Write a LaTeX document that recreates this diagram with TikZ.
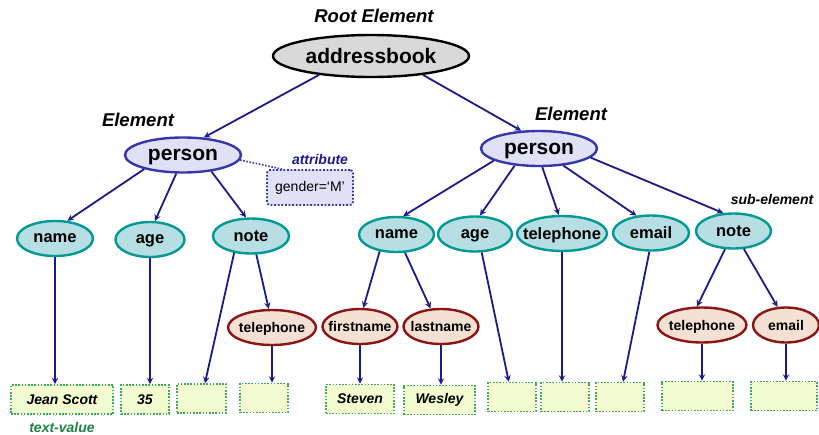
\documentclass[tikz,border=0pt]{standalone}
\usepackage{fontspec}
\setmainfont{Liberation Sans}
\usetikzlibrary{arrows,shapes.geometric}
\definecolor{navyline}{RGB}{26, 26, 140}
\definecolor{cloud}{RGB}{217, 217, 217}
\definecolor{indigo}{RGB}{55, 55, 170}
\definecolor{lavender}{RGB}{224, 224, 247}
\definecolor{aqua}{RGB}{183, 222, 226}
\definecolor{aquadark}{RGB}{0, 153, 148}
\definecolor{blush}{RGB}{245, 224, 212}
\definecolor{maroon}{RGB}{140, 20, 20}
\definecolor{lemon}{RGB}{242, 252, 208}
\definecolor{fern}{RGB}{60, 170, 90}
\definecolor{forest}{RGB}{30, 130, 70}

\begin{document}
\begin{tikzpicture}[x=1pt, y=-1pt,
    rootnode/.style={ellipse, draw=black, fill=cloud, line width=2.4pt, minimum width=196pt, minimum height=42pt,
                     inner xsep=-20pt, inner ysep=-4pt, text depth=0pt, font=\fontsize{21}{21}\selectfont\bfseries},
    personnode/.style={ellipse, draw=indigo, fill=lavender, line width=2.4pt, minimum width=116pt, minimum height=35pt,
                     inner xsep=-20pt, inner ysep=-4pt, text depth=0pt, font=\fontsize{21}{21}\selectfont\bfseries},
    leafnode/.style={ellipse, draw=aquadark, fill=aqua, line width=2.4pt, minimum height=35pt,
                     inner xsep=-20pt, inner ysep=-4pt, text depth=0pt, font=\fontsize{16.5}{16.5}\selectfont\bfseries},
    subnode/.style={ellipse, draw=maroon, fill=blush, line width=2.4pt, minimum height=35pt,
                     inner xsep=-20pt, inner ysep=-4pt, text depth=0pt, font=\fontsize{14}{14}\selectfont\bfseries},
    valuebox/.style={rectangle, draw=fern, fill=lemon, line width=1.6pt, dash pattern=on 1.6pt off 1.6pt,
                     minimum height=29pt, inner sep=0pt, font=\fontsize{14}{14}\selectfont\bfseries\itshape},
    attrbox/.style={rectangle, rounded corners=3pt, draw=indigo, fill=lavender, line width=1.8pt,
                     dash pattern=on 1.8pt off 1.8pt, minimum width=86pt, minimum height=35pt, inner sep=0pt,
                     font=\fontsize{14}{14}\selectfont},
    tag/.style={inner sep=0pt, font=\fontsize{14}{14}\selectfont\bfseries\itshape},
    bigtag/.style={inner sep=0pt, font=\fontsize{18.5}{18.5}\selectfont\bfseries\itshape},
    link/.style={draw=navyline, line width=1.8pt, -stealth}]
            \useasboundingbox (0,0) rectangle (819,434);
            \node[bigtag]                          (roottag) at (374, 16)    {Root Element};
            \node[rootnode]                        (book)    at (371, 56)    {addressbook};
            \node[bigtag]                          (ltag)    at (138, 120)   {Element};
            \node[personnode]                      (lp)      at (183, 155)   {person};
            \node[bigtag]                          (rtag)    at (571, 114)   {Element};
            \node[personnode]                      (rp)      at (539, 148.5) {person};
            \node[tag, text=navyline]              (attrtag) at (320, 159)   {attribute};
            \node[attrbox]                         (gbox)    at (310, 187.5) {gender=‘M’};
            \node[tag]                             (subtag)  at (772, 199)   {sub-element};

            \node[leafnode, minimum width=76pt]    (lname)   at (55, 238.5)  {name};
            \node[leafnode, minimum width=69pt]    (lage)    at (150, 239.5) {age};
            \node[leafnode, minimum width=76pt]    (lnote)   at (251, 236)   {note};
            \node[subnode,  minimum width=88pt]    (ltel)    at (272, 327.5) {telephone};

            \node[leafnode, minimum width=75pt]    (rname)   at (396.5, 234.5) {name};
            \node[leafnode, minimum width=74pt]    (rage)    at (475, 234)   {age};
            \node[leafnode, minimum width=90pt]    (rtel)    at (562, 233.5) {telephone};
            \node[leafnode, minimum width=76pt]    (remail)  at (651, 233)   {email};
            \node[leafnode, minimum width=75pt]    (rnote)   at (733.5, 231) {note};
            \node[subnode,  minimum width=75pt]    (rfirst)  at (360, 326.5) {firstname};
            \node[subnode,  minimum width=75pt]    (rlast)   at (441, 326.5) {lastname};
            \node[subnode,  minimum width=89pt]    (rtel2)   at (702, 325)   {telephone};
            \node[subnode,  minimum width=66pt]    (remail2) at (786, 325)   {email};

            \node[valuebox, minimum width=102pt]   (jean)    at (62, 399.5)  {Jean Scott};
            \node[valuebox, minimum width=48pt]    (age35)   at (145, 399.5) {35};
            \node[valuebox, minimum width=49pt]    (box3)    at (201.5, 398.5) {};
            \node[valuebox, minimum width=48pt]    (box4)    at (264, 398)   {};
            \node[valuebox, minimum width=68pt]    (steven)  at (360, 399)   {Steven};
            \node[valuebox, minimum width=71pt]    (wesley)  at (439.5, 400) {Wesley};
            \node[valuebox, minimum width=48pt]    (box7)    at (512, 397)   {};
            \node[valuebox, minimum width=48pt]    (box8)    at (565, 397)   {};
            \node[valuebox, minimum width=48pt]    (box9)    at (620, 397)   {};
            \node[valuebox, minimum width=71pt]    (box10)   at (697.5, 396) {};
            \node[valuebox, minimum width=66pt]    (box11)   at (784, 396)   {};
            \node[tag, text=forest]                (valtag)  at (62, 427)    {text-value};

            \draw[link] (book.200) -- (lp.40);
            \draw[link] (book.340) -- (rp.135);
            \draw[link] (lp.200)   -- (lname.55);
            \draw[link] (lp.250)   -- (lage.75);
            \draw[link] (lp.330)   -- (lnote.105);
            \draw[indigo, line width=1.6pt, dash pattern=on 1.6pt off 1.6pt] (lp.355) -- ([xshift=16pt]gbox.north west);
            \draw[link] (lname)    -- (lname |- jean.north);
            \draw[link] (lage)     -- (lage |- age35.north);
            \draw[link] (lnote.225) -- (box3);
            \draw[link] (lnote.286) -- (ltel.100);
            \draw[link] (ltel)     -- (ltel |- box4.north);

            \draw[link] (rp.195)   -- (rname.70);
            \draw[link] (rp.215)   -- (rage.75);
            \draw[link] (rp.280)   -- (rtel.100);
            \draw[link] (rp.325)   -- (remail.130);
            \draw[link] (rp.350)   -- (rnote.120);
            \draw[link] (rname.225) -- (rfirst.80);
            \draw[link] (rname.295) -- (rlast.120);
            \draw[link] (rfirst)   -- (rfirst |- steven.north);
            \draw[link] (rlast)    -- (rlast |- wesley.north);
            \draw[link] (rage.290) -- (box7);
            \draw[link] (rtel)     -- (rtel |- box8.north);
            \draw[link] (remail.265) -- (box9);
            \draw[link] (rnote.245) -- (rtel2.105);
            \draw[link] (rnote.300) -- (remail2.115);
            \draw[link] (rtel2)    -- (rtel2 |- box10.north);
            \draw[link] (remail2)  -- (remail2 |- box11.north);
\end{tikzpicture}
\end{document}
